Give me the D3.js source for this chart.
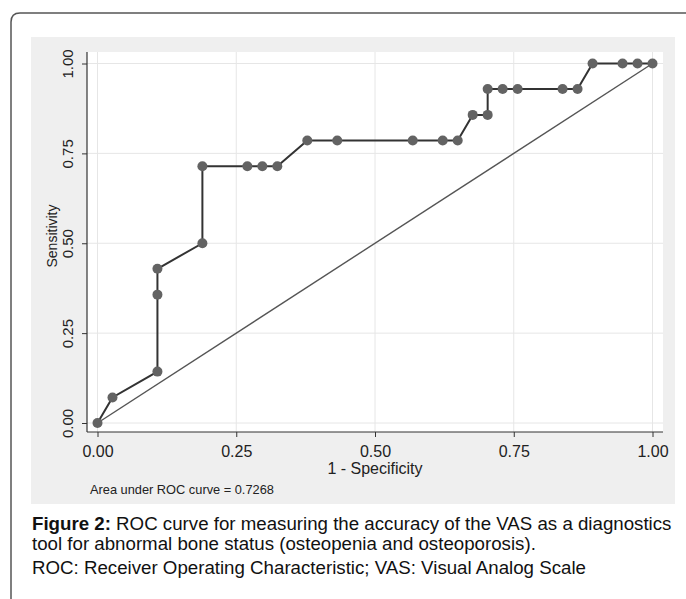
<!DOCTYPE html>
<html>
<head>
<meta charset="utf-8">
<script src="https://cdn.jsdelivr.net/npm/d3@7"></script>
<style>
  body { margin: 0; background: #fff; }
  text { font-family: "Liberation Sans", Arial, Helvetica, sans-serif; }
</style>
</head>
<body>
<div id="viz"></div>
<script>
// ROC points: 1 - specificity (x) and sensitivity (y)
var fpr = [0, 0.027, 0.108, 0.108, 0.108, 0.189, 0.189, 0.270, 0.297, 0.324,
           0.378, 0.432, 0.568, 0.622, 0.649, 0.676, 0.703, 0.703, 0.730, 0.757,
           0.838, 0.865, 0.892, 0.946, 0.973, 1.0];
var tpr = [0, 0.071, 0.143, 0.357, 0.429, 0.500, 0.714, 0.714, 0.714, 0.714,
           0.786, 0.786, 0.786, 0.786, 0.786, 0.857, 0.857, 0.929, 0.929, 0.929,
           0.929, 0.929, 1.0, 1.0, 1.0, 1.0];
var tickValues = [0, 0.25, 0.5, 0.75, 1];
var refLine = [0, 1];
var aucText = "Area under ROC curve = 0.7268";
var xTitle = "1 - Specificity";
var yTitle = "Sensitivity";

var W = 686, H = 599;
var svg = d3.select("#viz").append("svg")
    .attr("width", W)
    .attr("height", H);

// outer frame (open at right and bottom)
svg.append("path")
    .attr("d", "M11,599 L11,22 Q11,13 20,13 L686,13")
    .attr("fill", "none")
    .attr("stroke", "#555")
    .attr("stroke-width", 1.5);

// gray graph region
svg.append("rect")
    .attr("x", 31).attr("y", 37)
    .attr("width", 644).attr("height", 467)
    .attr("fill", "#efefef");

// white plot region
var plot = { left: 87, top: 52, right: 663, bottom: 432 };
svg.append("rect")
    .attr("x", plot.left).attr("y", plot.top)
    .attr("width", plot.right - plot.left)
    .attr("height", plot.bottom - plot.top)
    .attr("fill", "#fff");

var x = d3.scaleLinear().domain([0, 1]).range([97.5, 652.5]);
var y = d3.scaleLinear().domain([0, 1]).range([423, 63.5]);

// gridlines
svg.append("g")
    .selectAll("line.vg")
    .data(tickValues)
    .enter()
    .append("line")
    .attr("x1", function (d) { return x(d); })
    .attr("x2", function (d) { return x(d); })
    .attr("y1", plot.top)
    .attr("y2", plot.bottom)
    .attr("stroke", "#e6e6e6")
    .attr("stroke-width", 1);

svg.append("g")
    .selectAll("line.hg")
    .data(tickValues)
    .enter()
    .append("line")
    .attr("x1", plot.left)
    .attr("x2", plot.right)
    .attr("y1", function (d) { return y(d); })
    .attr("y2", function (d) { return y(d); })
    .attr("stroke", "#e6e6e6")
    .attr("stroke-width", 1);

// x axis
var xAxis = svg.append("g")
    .attr("transform", "translate(0," + plot.bottom + ")")
    .call(d3.axisBottom(x)
        .tickValues(tickValues)
        .tickFormat(d3.format(".2f"))
        .tickSize(5)
        .tickSizeOuter(0));
xAxis.select(".domain").remove();
xAxis.selectAll(".tick line").attr("stroke", "#333");
xAxis.selectAll(".tick text")
    .attr("y", 25)
    .attr("dy", 0)
    .style("font-size", "16px")
    .attr("fill", "#222");

// y axis
var yAxis = svg.append("g")
    .attr("transform", "translate(" + plot.left + ",0)")
    .call(d3.axisLeft(y)
        .tickValues(tickValues)
        .tickFormat(d3.format(".2f"))
        .tickSize(5)
        .tickSizeOuter(0));
yAxis.select(".domain").remove();
yAxis.selectAll(".tick line").attr("stroke", "#333");
yAxis.selectAll(".tick text")
    .attr("transform", "rotate(-90)")
    .attr("x", 0)
    .attr("y", -14)
    .attr("dy", 0)
    .attr("text-anchor", "middle")
    .style("font-size", "15px")
    .attr("fill", "#222");

// axis lines
svg.append("line")
    .attr("x1", plot.left).attr("x2", plot.left)
    .attr("y1", plot.top).attr("y2", plot.bottom)
    .attr("stroke", "#333").attr("stroke-width", 1.2);
svg.append("line")
    .attr("x1", plot.left).attr("x2", plot.right)
    .attr("y1", plot.bottom).attr("y2", plot.bottom)
    .attr("stroke", "#333").attr("stroke-width", 1.2);

// axis titles
svg.append("text")
    .attr("x", x(0.5))
    .attr("y", 474)
    .attr("text-anchor", "middle")
    .style("font-size", "16px")
    .attr("fill", "#222")
    .text(xTitle);

svg.append("text")
    .attr("transform", "translate(57,236) rotate(-90)")
    .attr("text-anchor", "middle")
    .style("font-size", "14px")
    .attr("fill", "#222")
    .text(yTitle);

// reference diagonal
svg.append("line")
    .attr("x1", x(refLine[0])).attr("y1", y(refLine[0]))
    .attr("x2", x(refLine[1])).attr("y2", y(refLine[1]))
    .attr("stroke", "#555")
    .attr("stroke-width", 1.4);

// ROC curve
var pts = fpr.map(function (d, i) { return [d, tpr[i]]; });
svg.append("path")
    .datum(pts)
    .attr("fill", "none")
    .attr("stroke", "#333")
    .attr("stroke-width", 2)
    .attr("d", d3.line()
        .x(function (d) { return x(d[0]); })
        .y(function (d) { return y(d[1]); }));

svg.selectAll("circle.pt")
    .data(pts)
    .enter()
    .append("circle")
    .attr("cx", function (d) { return x(d[0]); })
    .attr("cy", function (d) { return y(d[1]); })
    .attr("r", 5)
    .attr("fill", "#636363");

// AUC note
svg.append("text")
    .attr("x", 90)
    .attr("y", 494)
    .style("font-size", "12.8px")
    .attr("fill", "#222")
    .text(aucText);

// caption
var cap1 = svg.append("text")
    .attr("x", 32).attr("y", 530)
    .style("font-size", "18.7px")
    .attr("fill", "#111");
cap1.append("tspan").style("font-weight", "bold").text("Figure 2:");
cap1.append("tspan").text(" ROC curve for measuring the accuracy of the VAS as a diagnostics");

svg.append("text")
    .attr("x", 32).attr("y", 550)
    .style("font-size", "18.7px")
    .attr("fill", "#111")
    .text("tool for abnormal bone status (osteopenia and osteoporosis).");

svg.append("text")
    .attr("x", 32).attr("y", 574)
    .style("font-size", "18.7px")
    .attr("fill", "#111")
    .text("ROC: Receiver Operating Characteristic; VAS: Visual Analog Scale");
</script>
</body>
</html>
